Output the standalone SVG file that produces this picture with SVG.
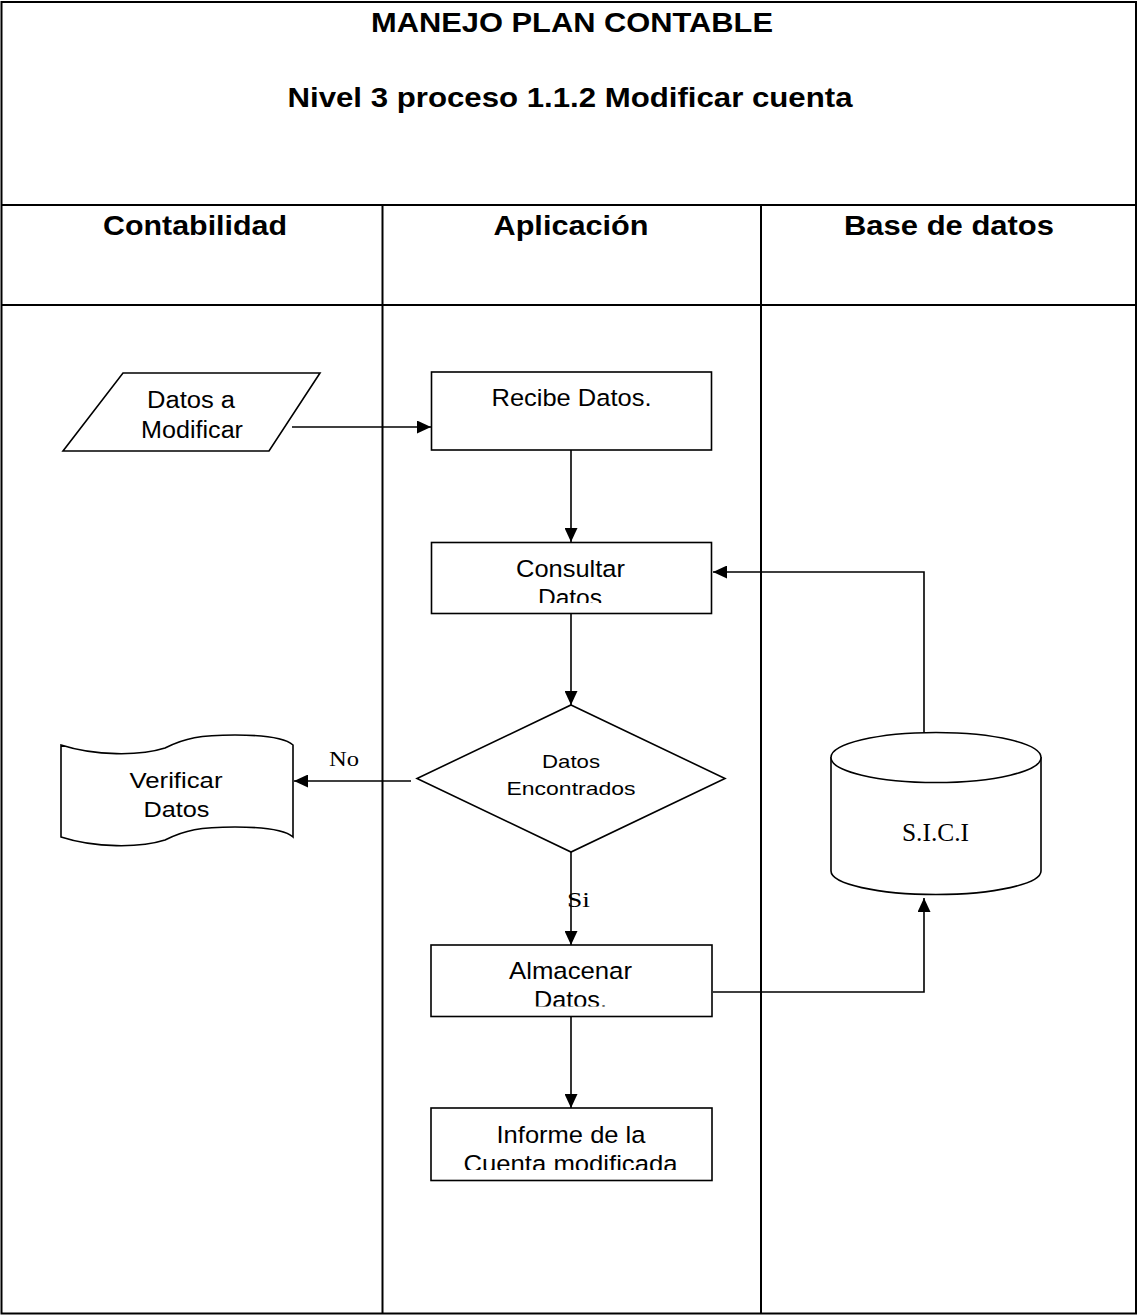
<svg xmlns="http://www.w3.org/2000/svg" width="1138" height="1316" viewBox="0 0 1138 1316">
<style>
.frame{fill:none;stroke:#000;stroke-width:2}
.node{fill:#fff;stroke:#000;stroke-width:1.6}
.conn{fill:none;stroke:#000;stroke-width:1.6}
.h{font-family:"Liberation Sans",Arial,sans-serif;font-weight:bold;fill:#000;text-anchor:middle}
.t{font-family:"Liberation Sans",Arial,sans-serif;fill:#000;text-anchor:middle}
.s{font-family:"Liberation Serif","Times New Roman",serif;fill:#000}
</style>
<defs>
<marker id="arr" markerUnits="userSpaceOnUse" markerWidth="15" markerHeight="13" refX="14" refY="6.5" orient="auto">
<path d="M0,0 L14,6.5 L0,13 z" fill="#000"/>
</marker>
<clipPath id="c1"><rect x="431" y="542" width="281" height="61"/></clipPath>
<clipPath id="c2"><rect x="431" y="945" width="281" height="61.5"/></clipPath>
<clipPath id="c3"><rect x="431" y="1108" width="281" height="62"/></clipPath>
</defs>
<rect width="1138" height="1316" fill="#fff"/>
<g id="table">
<rect class="frame" x="1.5" y="2" width="1134.5" height="1311.5"/>
<line class="frame" x1="1.5" y1="205" x2="1136" y2="205"/>
<line class="frame" x1="1.5" y1="305" x2="1136" y2="305"/>
<line class="frame" x1="382.5" y1="205" x2="382.5" y2="1313.5"/>
<line class="frame" x1="761" y1="205" x2="761" y2="1313.5"/>
<text class="h" x="572" y="32" font-size="27" textLength="402" lengthAdjust="spacingAndGlyphs">MANEJO PLAN CONTABLE</text>
<text class="h" x="570" y="107" font-size="27" textLength="565" lengthAdjust="spacingAndGlyphs">Nivel 3 proceso 1.1.2 Modificar cuenta</text>
<text class="h" x="195" y="235" font-size="27" textLength="184" lengthAdjust="spacingAndGlyphs">Contabilidad</text>
<text class="h" x="571" y="235" font-size="27" textLength="155" lengthAdjust="spacingAndGlyphs">Aplicación</text>
<text class="h" x="949" y="235" font-size="27" textLength="210" lengthAdjust="spacingAndGlyphs">Base de datos</text>
</g>
<g id="connectors">
<path class="conn" d="M292,427 L431,427" marker-end="url(#arr)"/>
<path class="conn" d="M571,450 L571,542" marker-end="url(#arr)"/>
<path class="conn" d="M924,733 L924,572 L713,572" marker-end="url(#arr)"/>
<path class="conn" d="M571,613 L571,705" marker-end="url(#arr)"/>
<path class="conn" d="M411,781 L294,781" marker-end="url(#arr)"/>
<path class="conn" d="M571,852 L571,945" marker-end="url(#arr)"/>
<path class="conn" d="M713,992 L924,992 L924,898" marker-end="url(#arr)"/>
<path class="conn" d="M571,1016 L571,1108" marker-end="url(#arr)"/>
<text class="s" x="329" y="766" font-size="21" textLength="30" lengthAdjust="spacingAndGlyphs">No</text>
<text class="s" x="567" y="907" font-size="22" textLength="23" lengthAdjust="spacingAndGlyphs">Si</text>
</g>
<g id="datos-a-modificar">
<path class="node" d="M123,373 L320,373 L269,451 L63,451 Z"/>
<text class="t" x="191" y="408" font-size="23" textLength="88" lengthAdjust="spacingAndGlyphs">Datos a</text>
<text class="t" x="192" y="438" font-size="23" textLength="102" lengthAdjust="spacingAndGlyphs">Modificar</text>
</g>
<g id="recibe-datos">
<rect class="node" x="431.5" y="372" width="280" height="78"/>
<text class="t" x="571.5" y="406" font-size="24.5" textLength="160" lengthAdjust="spacingAndGlyphs">Recibe Datos.</text>
</g>
<g id="consultar-datos">
<rect class="node" x="431.5" y="542.5" width="280" height="71"/>
<text class="t" x="570.5" y="577.3" font-size="24.5" textLength="109" lengthAdjust="spacingAndGlyphs">Consultar</text>
<text class="t" x="573.4" y="605.6" font-size="24.5" textLength="71" lengthAdjust="spacingAndGlyphs" clip-path="url(#c1)">Datos.</text>
</g>
<g id="datos-encontrados">
<path class="node" d="M571,705 L725,778.5 L571,852 L417,778.5 Z"/>
<text class="t" x="571" y="768" font-size="19" textLength="58" lengthAdjust="spacingAndGlyphs">Datos</text>
<text class="t" x="571" y="795" font-size="19" textLength="129" lengthAdjust="spacingAndGlyphs">Encontrados</text>
</g>
<g id="verificar-datos">
<path class="node" d="M61,745 C95,756 140,756 165,748 C185,738 200,735 235,735 C265,735 285,738 293,745 L293,837 C285,830 265,827 235,827 C200,827 185,830 165,840 C140,848 95,848 61,837 Z"/>
<text class="t" x="176" y="788.3" font-size="22" textLength="93" lengthAdjust="spacingAndGlyphs">Verificar</text>
<text class="t" x="176.5" y="816.5" font-size="22" textLength="66" lengthAdjust="spacingAndGlyphs">Datos</text>
</g>
<g id="sici">
<path class="node" d="M831,757 L831,871 A105,23.5 0 0 0 1041,871 L1041,757"/>
<ellipse class="node" cx="936" cy="757.5" rx="105" ry="25"/>
<text class="s" x="902" y="841" font-size="25" textLength="67" lengthAdjust="spacingAndGlyphs">S.I.C.I</text>
</g>
<g id="almacenar-datos">
<rect class="node" x="431" y="945" width="281" height="71.5"/>
<text class="t" x="570.5" y="979.3" font-size="24.5" textLength="123" lengthAdjust="spacingAndGlyphs">Almacenar</text>
<text class="t" x="570.5" y="1007.8" font-size="24.5" textLength="73" lengthAdjust="spacingAndGlyphs" clip-path="url(#c2)">Datos.</text>
</g>
<g id="informe">
<rect class="node" x="431" y="1108" width="281" height="72.5"/>
<text class="t" x="571" y="1143.3" font-size="24.5" textLength="149" lengthAdjust="spacingAndGlyphs">Informe de la</text>
<text class="t" x="570.5" y="1171.8" font-size="24.5" textLength="214" lengthAdjust="spacingAndGlyphs" clip-path="url(#c3)">Cuenta modificada</text>
</g>
</svg>
